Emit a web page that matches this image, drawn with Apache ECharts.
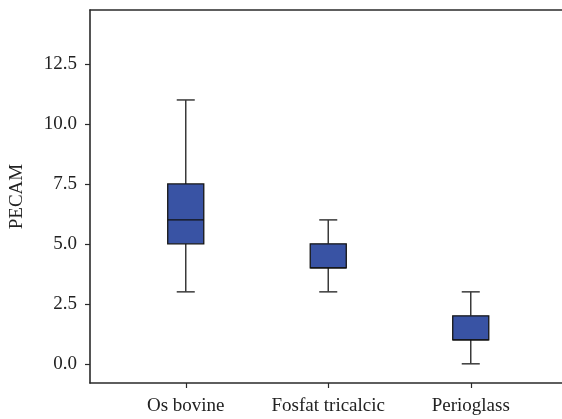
<!DOCTYPE html>
<html>
<head>
<meta charset="utf-8">
<script src="https://cdn.jsdelivr.net/npm/echarts@6/dist/echarts.min.js"></script>
<style>
  html, body { margin: 0; padding: 0; background: #fff; }
  #box1 { width: 562px; height: 419px; }
</style>
</head>
<body>
<div id="box1"></div>
<script>
// 数据
var categories = ["Os bovine", "Fosfat tricalcic", "Perioglass"];
var mins = [3, 3, 0];
var q1s = [5, 4, 1];
var medians = [6, 4, 1];
var q3s = [7.5, 5, 2];
var maxs = [11, 6, 3];
var yTicks = [0, 2.5, 5, 7.5, 10, 12.5];

var serif = "Liberation Serif";
var boxData = categories.map(function (c, i) {
  return [i, mins[i], q1s[i], medians[i], q3s[i], maxs[i]];
});

var chart = echarts.init(document.getElementById("box1"));

function renderBox(params, api) {
  var x = api.value(0);
  var pMin = api.coord([x, api.value(1)]);
  var pQ1 = api.coord([x, api.value(2)]);
  var pMed = api.coord([x, api.value(3)]);
  var pQ3 = api.coord([x, api.value(4)]);
  var pMax = api.coord([x, api.value(5)]);
  var bw = api.size([1, 0])[0] * 0.253; // 箱体宽度
  var cw = bw / 2; // 须线端宽度
  var cx = pMin[0];
  var whisker = { stroke: "#3a3a3a", lineWidth: 1.5 };
  return {
    type: "group",
    children: [
      { type: "line", shape: { x1: cx, y1: pMin[1], x2: cx, y2: pQ1[1] }, style: whisker },
      { type: "line", shape: { x1: cx, y1: pQ3[1], x2: cx, y2: pMax[1] }, style: whisker },
      { type: "line", shape: { x1: cx - cw / 2, y1: pMin[1], x2: cx + cw / 2, y2: pMin[1] }, style: whisker },
      { type: "line", shape: { x1: cx - cw / 2, y1: pMax[1], x2: cx + cw / 2, y2: pMax[1] }, style: whisker },
      {
        type: "rect",
        shape: { x: cx - bw / 2, y: pQ3[1], width: bw, height: pQ1[1] - pQ3[1] },
        style: { fill: "#3953a4", stroke: "#151515", lineWidth: 1.3 }
      },
      { type: "line", shape: { x1: cx - bw / 2, y1: pMed[1], x2: cx + bw / 2, y2: pMed[1] }, style: { stroke: "#111", lineWidth: 1.2 } }
    ]
  };
}

var option = {
  animation: false,
  grid: [
    { left: 90, top: 10, right: 0, height: 373 },
    { left: 114.5, top: 10, width: 427.5, height: 373 }
  ],
  xAxis: [
    {
      gridIndex: 0, type: "value", min: 0, max: 1, position: "bottom",
      axisLine: { show: true, onZero: false, lineStyle: { color: "#2a2a2a", width: 1.6 } },
      axisTick: { show: false }, axisLabel: { show: false }, splitLine: { show: false }
    },
    {
      gridIndex: 0, type: "value", min: 0, max: 1, position: "top",
      axisLine: { show: true, onZero: false, lineStyle: { color: "#2a2a2a", width: 1.6 } },
      axisTick: { show: false }, axisLabel: { show: false }, splitLine: { show: false }
    },
    {
      gridIndex: 1, type: "category", data: categories, position: "bottom",
      axisLine: { show: false, onZero: false },
      axisTick: { show: true, alignWithLabel: true, length: 5, lineStyle: { color: "#2a2a2a", width: 1.2 } },
      axisLabel: { interval: 0, margin: 14, color: "#222", fontFamily: serif, fontSize: 19 },
      splitLine: { show: false }
    }
  ],
  yAxis: [
    {
      gridIndex: 0, type: "value", min: -0.8, max: 14.75,
      name: "PECAM", nameLocation: "center", nameGap: 63, nameRotate: 90,
      nameTextStyle: { color: "#222", fontFamily: serif, fontSize: 19 },
      axisLine: { show: true, onZero: false, lineStyle: { color: "#2a2a2a", width: 1.6 } },
      axisTick: { show: true, length: 5, customValues: yTicks, lineStyle: { color: "#2a2a2a", width: 1.2 } },
      axisLabel: {
        margin: 13, color: "#222", fontFamily: serif, fontSize: 19,
        customValues: yTicks,
        formatter: function (v) { return v.toFixed(1); }
      },
      splitLine: { show: false }
    },
    {
      gridIndex: 1, type: "value", min: -0.8, max: 14.75, show: false,
      splitLine: { show: false }
    }
  ],
  series: [
    {
      name: "PECAM",
      type: "custom",
      xAxisIndex: 2,
      yAxisIndex: 1,
      renderItem: renderBox,
      encode: { x: 0, y: [1, 2, 3, 4, 5] },
      data: boxData
    }
  ]
};

chart.setOption(option);
</script>
</body>
</html>
